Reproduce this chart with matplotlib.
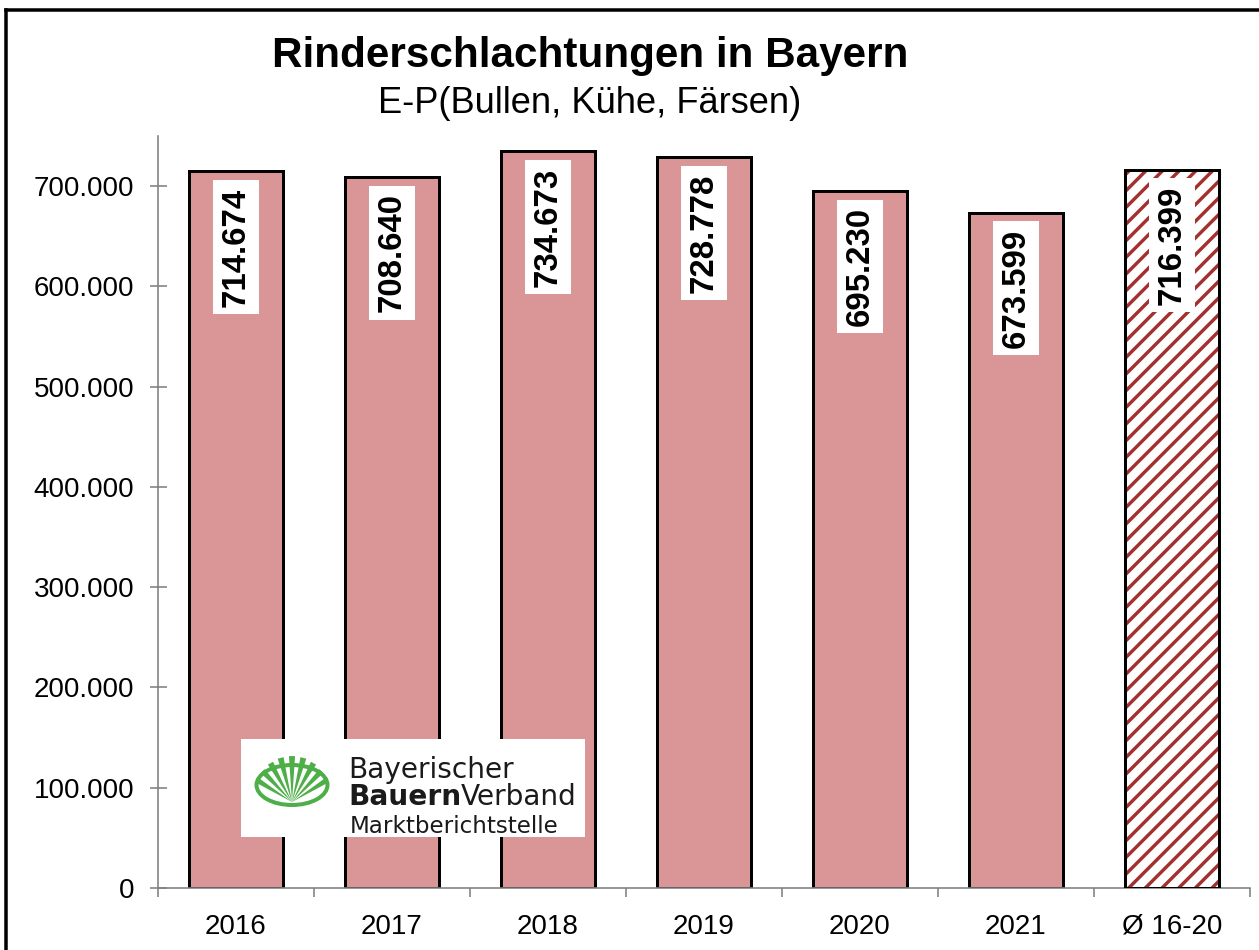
#!/usr/bin/env python3
"""Rinderschlachtungen in Bayern, E-P, bar chart with average bar."""

import matplotlib
matplotlib.use("Agg")
import matplotlib.pyplot as plt
from matplotlib.lines import Line2D
from matplotlib.patches import Ellipse, Polygon
from matplotlib.ticker import FixedLocator, FuncFormatter
import numpy as np

CATEGORIES = ["2016", "2017", "2018", "2019", "2020", "2021", "Ø 16-20"]
VALUES = [714674, 708640, 734673, 728778, 695230, 673599, 716399]
IS_AVERAGE = [False, False, False, False, False, False, True]
Y_TICKS = [0, 100000, 200000, 300000, 400000, 500000, 600000, 700000]

BAR_COLOR = "#da9696"
HATCH_COLOR = "#a3302f"
AXIS_GRAY = "#808080"
LOGO_GREEN = "#4eae47"

W, H, DPI = 1259, 950, 100


def px(v):
    # pixels -> points at this dpi
    return v * 72.0 / DPI


def fmt_de(v, _pos=None):
    return f"{v:,.0f}".replace(",", ".")


def main():
    plt.rcParams["font.family"] = ["Liberation Sans", "DejaVu Sans"]
    plt.rcParams["hatch.linewidth"] = px(3.4)

    fig = plt.figure(figsize=(W / DPI, H / DPI), dpi=DPI)
    ax = fig.add_axes([158 / W, 1 - 888 / H, (1250 - 158) / W, (888 - 136) / H])

    x = np.arange(len(CATEGORIES))
    for xi, val, avg in zip(x, VALUES, IS_AVERAGE):
        if avg:
            ax.bar(xi, val, width=0.6, color="white", edgecolor=HATCH_COLOR,
                   hatch="//", linewidth=0, zorder=2)
            ax.bar(xi, val, width=0.6, fill=False, edgecolor="black",
                   linewidth=px(3), zorder=3)
        else:
            ax.bar(xi, val, width=0.6, color=BAR_COLOR, edgecolor="black",
                   linewidth=px(3), zorder=2)
        ax.annotate(fmt_de(val), xy=(xi, val), xytext=(0, -px(16)),
                    textcoords="offset points", rotation=90, ha="center", va="top",
                    fontsize=px(33), fontweight="bold", zorder=4,
                    bbox=dict(boxstyle="square,pad=0.22", fc="white", ec="none"))

    ax.set_xlim(-0.5, len(CATEGORIES) - 0.5)
    ax.set_ylim(0, 750000)

    ax.yaxis.set_major_locator(FixedLocator(Y_TICKS))
    ax.yaxis.set_major_formatter(FuncFormatter(fmt_de))
    ax.set_xticks(x)
    ax.set_xticklabels(CATEGORIES)
    ax.set_xticks(np.arange(-0.5, len(CATEGORIES)), minor=True)

    for side in ["top", "right"]:
        ax.spines[side].set_visible(False)
    for side in ["left", "bottom"]:
        ax.spines[side].set_color(AXIS_GRAY)
        ax.spines[side].set_linewidth(px(1.6))

    ax.tick_params(axis="y", direction="inout", length=px(17), width=px(1.6),
                   color=AXIS_GRAY, labelsize=px(27.7), pad=px(15))
    ax.tick_params(axis="x", which="major", length=0, labelsize=px(27.7), pad=px(26))
    ax.tick_params(axis="x", which="minor", direction="out", length=px(9),
                   width=px(1.6), color=AXIS_GRAY)

    fig.text(590 / W, 1 - 67 / H, "Rinderschlachtungen in Bayern", ha="center",
             va="baseline", fontsize=px(42.2), fontweight="bold")
    fig.text(590 / W, 1 - 113 / H, "E-P(Bullen, Kühe, Färsen)", ha="center",
             va="baseline", fontsize=px(36.3))

    # outer frame (runs off the right and bottom edge)
    fig.add_artist(Line2D([6 / W, 6 / W], [0, 1 - 10 / H], color="black",
                          linewidth=px(3.5)))
    fig.add_artist(Line2D([6 / W, 1], [1 - 10 / H, 1 - 10 / H], color="black",
                          linewidth=px(3.5)))

    # logo box
    lx0, ly0, lx1, ly1 = 241, 739, 585, 837
    lg = fig.add_axes([lx0 / W, 1 - ly1 / H, (lx1 - lx0) / W, (ly1 - ly0) / H])
    lg.set_xlim(0, lx1 - lx0)
    lg.set_ylim(ly1 - ly0, 0)
    lg.set_facecolor("white")
    lg.set_xticks([])
    lg.set_yticks([])
    for s in lg.spines.values():
        s.set_visible(False)

    cx, cy = 292 - lx0, 785 - ly0
    lg.add_patch(Ellipse((cx, cy), 71, 40, fill=False, ec=LOGO_GREEN, lw=px(4)))
    base = (cx, cy + 17)
    for ang in np.linspace(32, 148, 9):
        r = 34 + 12 * np.sin(np.radians(ang))
        a1, a2 = np.radians(ang - 3.8), np.radians(ang + 3.8)
        tip1 = (base[0] + r * np.cos(a1), base[1] - r * np.sin(a1))
        tip2 = (base[0] + r * np.cos(a2), base[1] - r * np.sin(a2))
        lg.add_patch(Polygon([base, tip1, tip2], closed=True, fc=LOGO_GREEN, ec="none"))

    tx = 348 - lx0
    logo_font = ["DejaVu Sans"]
    lg.text(tx, 778 - ly0, "Bayerischer", fontsize=px(28), va="baseline",
            ha="left", color="#1a1a1a", family=logo_font)
    t1 = lg.text(tx, 805 - ly0, "Bauern", fontsize=px(28), fontweight="bold",
                 va="baseline", ha="left", color="#1a1a1a", family=logo_font)
    lg.annotate("Verband", xy=(1, 0), xycoords=t1, fontsize=px(28),
                va="bottom", ha="left", color="#1a1a1a", family=logo_font)
    lg.text(tx + 2, 833 - ly0, "Marktberichtstelle", fontsize=px(23),
            va="baseline", ha="left", color="#1a1a1a", family=logo_font)

    fig.savefig("out.png", dpi=DPI, facecolor="white")
    plt.close(fig)


if __name__ == "__main__":
    main()
